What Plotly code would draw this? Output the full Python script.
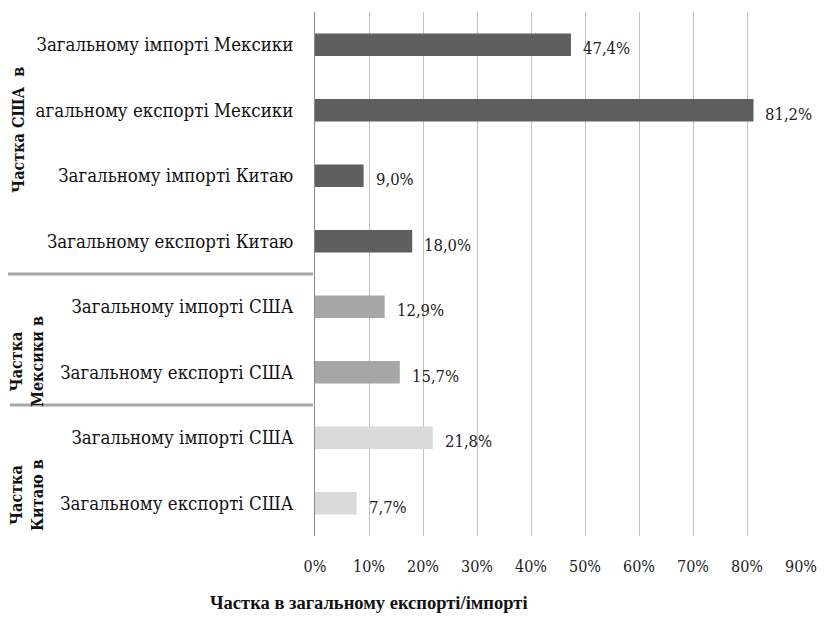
import plotly.graph_objects as go

# top-to-bottom order as drawn
categories = [
    "Загальному імпорті Мексики",
    "агальному експорті Мексики",
    "Загальному імпорті Китаю",
    "Загальному експорті Китаю",
    "Загальному імпорті США",
    "Загальному експорті США",
    "Загальному імпорті США",
    "Загальному експорті США",
]
shares = [0.474, 0.812, 0.090, 0.180, 0.129, 0.157, 0.218, 0.077]
groups = ["usa", "usa", "usa", "usa", "mex", "mex", "chn", "chn"]
group_labels = {"usa": "<b>Частка США  в</b>", "mex": "<b>Частка<br>Мексики в</b>", "chn": "<b>Частка<br>Китаю в</b>"}
x_ticks = [0, 0.1, 0.2, 0.3, 0.4, 0.5, 0.6, 0.7, 0.8, 0.9]
axis_title = "Частка в загальному експорті/імпорті"

colors = {"usa": "#5f5f5f", "mex": "#a6a6a6", "chn": "#d9d9d9"}
FONT = "DejaVu Serif Condensed, DejaVu Serif, serif"
TITLE_FONT = "Liberation Serif, serif"

# the page body has an 8px margin, so the figure is a bit smaller than the window
OFF = 8
W, H = 834 - 2 * OFF, 622 - 2 * OFF
L, R, T, B = 315 - OFF, 834 - 801 - OFF, 12 - OFF, 622 - 536 - OFF
pw = W - L - R
ph = H - T - B


def px_to_paper_x(px):
    # px is in window pixels
    return (px - OFF - L) / pw


def py_to_paper_y(py):
    return 1 - (py - OFF - T) / ph


ypos = list(range(len(categories)))

fig = go.Figure()
fig.add_trace(go.Bar(
    x=shares,
    y=ypos,
    orientation="h",
    width=0.34,
    marker=dict(color=[colors[g] for g in groups], line=dict(width=0)),
    hoverinfo="skip",
))

annotations = []
for v, y in zip(shares, ypos):
    annotations.append(dict(
        x=v, y=y, xref="x", yref="y", text=f"{v * 100:.1f}%".replace(".", ","),
        showarrow=False, xanchor="left", xshift=10, yshift=-4,
        font=dict(family=FONT, size=16.5, color="#222"),
    ))

# rotated group labels on the far left (window-pixel centres)
for g, xpx, ypx in [("usa", 18, 130), ("mex", 27, 362), ("chn", 27, 495)]:
    annotations.append(dict(
        x=px_to_paper_x(xpx), y=py_to_paper_y(ypx),
        xref="paper", yref="paper", text=group_labels[g], textangle=-90,
        showarrow=False, xanchor="center", yanchor="middle", align="center",
        font=dict(family=FONT, size=16, color="#111"),
    ))

annotations.append(dict(
    x=px_to_paper_x(369), y=py_to_paper_y(603), xref="paper", yref="paper",
    text=f"<b>{axis_title}</b>", showarrow=False, xanchor="center", yanchor="middle",
    font=dict(family=TITLE_FONT, size=18.5, color="#111"),
))

shapes = []
for ysep, x0px in [(3.5, 7), (5.5, 10)]:
    shapes.append(dict(
        type="line", xref="paper", yref="y",
        x0=px_to_paper_x(x0px), x1=px_to_paper_x(313), y0=ysep, y1=ysep,
        line=dict(color="#a6a6a6", width=3),
    ))

fig.update_layout(
    width=W, height=H,
    margin=dict(l=L, r=R, t=T, b=B),
    plot_bgcolor="white", paper_bgcolor="white",
    showlegend=False,
    separators=", ",
    annotations=annotations,
    shapes=shapes,
    font=dict(family=FONT, color="#111"),
)
fig.update_xaxes(
    range=[0, 0.9], tickvals=x_ticks, tickformat=".0%",
    showgrid=True, gridcolor="#bfbfbf", gridwidth=1,
    zeroline=False, showline=False, ticks="",
    tickfont=dict(family=FONT, size=16, color="#222"),
    ticklabelstandoff=19,
)
fig.update_yaxes(
    range=[7.5, -0.5], tickvals=ypos, ticktext=categories,
    showgrid=False, zeroline=False, showline=True, linecolor="#8c8c8c", linewidth=1,
    ticks="", ticklabelstandoff=17,
    tickfont=dict(family=FONT, size=18.5, color="#111"),
)

fig.write_html("out.html")
